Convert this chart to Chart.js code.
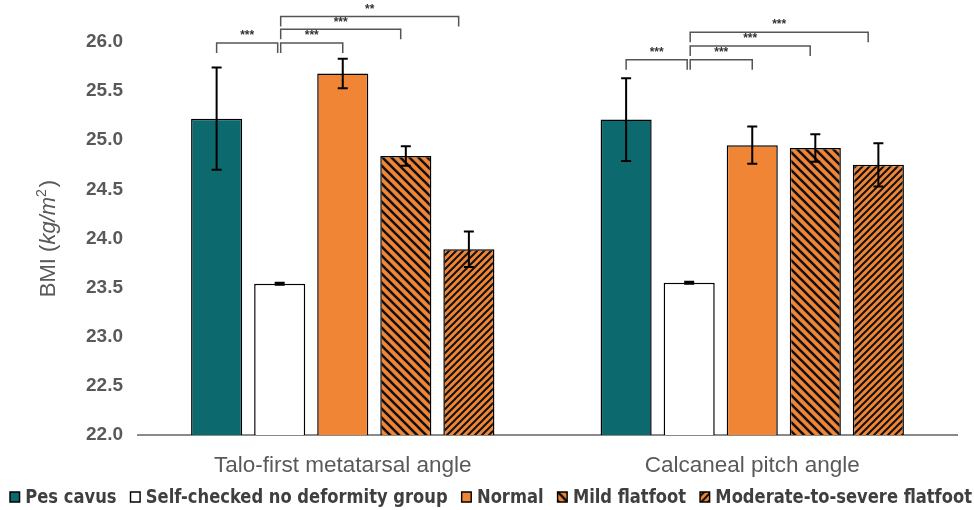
<!DOCTYPE html>
<html><head><meta charset="utf-8">
<script src="https://cdn.jsdelivr.net/npm/chart.js@4.4.1/dist/chart.umd.min.js"></script>
<style>html,body{margin:0;padding:0;background:#fff;}#wrap{width:974px;height:510px;position:relative}</style>
</head><body><div id="wrap"><canvas id="c" width="974" height="510"></canvas></div>
<script>
// ---------- data ----------
const categories = ['Talo-first metatarsal angle', 'Calcaneal pitch angle'];
const seriesNames = ['Pes cavus', 'Self-checked no deformity group', 'Normal', 'Mild flatfoot', 'Moderate-to-severe flatfoot'];
const pesCavus       = [25.22, 25.21];
const selfChecked    = [23.54, 23.55];
const normal         = [25.68, 24.95];
const mildFlatfoot   = [24.84, 24.92];
const moderateSevere = [23.89, 24.75];
const pesCavusErr    = [0.52, 0.42];
const selfCheckedErr = [0.01, 0.01];
const normalErr      = [0.15, 0.19];
const mildErr        = [0.10, 0.14];
const moderateErr    = [0.18, 0.22];
const yTicks = [22.0, 22.5, 23.0, 23.5, 24.0, 24.5, 25.0, 25.5, 26.0];
// significance brackets (category, from series, to series, height in BMI units, label)
const bracketCategory = [0, 0, 0, 0, 1, 1, 1, 1];
const bracketFrom     = [0, 1, 1, 1, 0, 1, 1, 1];
const bracketTo       = [1, 2, 3, 4, 1, 2, 3, 4];
const bracketHeight   = [25.99, 25.99, 26.13, 26.26, 25.82, 25.82, 25.96, 26.10];
const bracketTier     = [0, 0, 1, 2, 0, 0, 1, 2];
const bracketLabel    = ['***', '***', '***', '**', '***', '***', '***', '***'];

// ---------- styles ----------
const TEAL = '#0C696D';
const ORANGE = '#EF8535';
function hatch(dir, period, lw) {
  const c = document.createElement('canvas');
  c.width = period; c.height = period;
  const x = c.getContext('2d');
  x.fillStyle = ORANGE; x.fillRect(0, 0, period, period);
  x.strokeStyle = '#111'; x.lineWidth = lw; x.lineCap = 'square';
  for (const o of [-period, 0, period]) {
    x.beginPath();
    if (dir === 'back') { x.moveTo(o, 0); x.lineTo(o + period, period); }
    else { x.moveTo(o, period); x.lineTo(o + period, 0); }
    x.stroke();
  }
  return x.createPattern(c, 'repeat');
}
const mildPattern = hatch('back', 9, 2.6);
const modPattern = hatch('fwd', 7, 2.0);

const values = [pesCavus, selfChecked, normal, mildFlatfoot, moderateSevere];
const errors = [pesCavusErr, selfCheckedErr, normalErr, mildErr, moderateErr];
const fills = [TEAL, '#FFFFFF', ORANGE, mildPattern, modPattern];

const datasets = seriesNames.map((n, i) => ({
  label: n, data: values[i], errors: errors[i],
  backgroundColor: fills[i], borderColor: '#000', borderWidth: 1.5, borderSkipped: false,
  categoryPercentage: 0.77, barPercentage: 0.81
}));

const GRAY = '#595959';

const extras = {
  id: 'extras',
  afterDatasetsDraw(chart) {
    const ctx = chart.ctx, y = chart.scales.y;
    ctx.save();
    ctx.strokeStyle = '#000'; ctx.lineWidth = 2;
    chart.data.datasets.forEach((ds, di) => {
      const meta = chart.getDatasetMeta(di);
      meta.data.forEach((bar, j) => {
        const v = ds.data[j], e = ds.errors[j];
        const y1 = y.getPixelForValue(v + e), y2 = y.getPixelForValue(v - e);
        ctx.beginPath();
        ctx.moveTo(bar.x, y1); ctx.lineTo(bar.x, y2);
        ctx.moveTo(bar.x - 5, y1); ctx.lineTo(bar.x + 5, y1);
        ctx.moveTo(bar.x - 5, y2); ctx.lineTo(bar.x + 5, y2);
        ctx.stroke();
      });
    });
    // brackets
    ctx.strokeStyle = '#555'; ctx.lineWidth = 1.5;
    ctx.fillStyle = '#333'; ctx.font = 'bold 12px "Liberation Sans", Arial, sans-serif';
    ctx.textAlign = 'center'; ctx.textBaseline = 'middle';
    bracketCategory.forEach((c, k) => {
      const a = chart.getDatasetMeta(bracketFrom[k]).data[c];
      const b = chart.getDatasetMeta(bracketTo[k]).data[c];
      const yy = y.getPixelForValue(bracketHeight[k]);
      let x1 = a.x, x2 = b.x - b.width * 0.1 * bracketTier[k];
      if (bracketFrom[k] === 0) x2 -= 2; else x1 += 1;
      ctx.beginPath();
      ctx.moveTo(x1, yy + 10); ctx.lineTo(x1, yy); ctx.lineTo(x2, yy); ctx.lineTo(x2, yy + 10);
      ctx.stroke();
      ctx.fillText(bracketLabel[k], (x1 + x2) / 2, yy - 7);
    });
    ctx.restore();
  },
  afterDraw(chart) {
    const ctx = chart.ctx, ca = chart.chartArea;
    ctx.save();
    // y-axis title with italic unit
    ctx.translate(49, (ca.top + ca.bottom) / 2);
    ctx.rotate(-Math.PI / 2);
    ctx.fillStyle = GRAY; ctx.textBaseline = 'middle';
    const fN = '22px "Liberation Sans", Arial, sans-serif';
    const fI = 'italic 22px "Liberation Sans", Arial, sans-serif';
    const fS = '14px "Liberation Sans", Arial, sans-serif';
    const parts = [['BMI (', fN, 0], ['kg/m', fI, 0], ['2', fS, -7], [')', fN, 0]];
    let total = 0;
    parts.forEach(p => { ctx.font = p[1]; total += ctx.measureText(p[0]).width + (p[0] === '2' ? 2 : 0); });
    let x = -total / 2;
    ctx.textAlign = 'left';
    parts.forEach(p => { ctx.font = p[1]; ctx.fillText(p[0], x, p[2]); x += ctx.measureText(p[0]).width + (p[0] === '2' ? 2 : 0); });
    ctx.restore();

    // legend
    ctx.save();
    const lf = 'bold 19px "Liberation Sans Narrow", "Arial Narrow", "DejaVu Sans Condensed", sans-serif';
    ctx.font = lf; ctx.textBaseline = 'middle'; ctx.textAlign = 'left';
    const box = 10, gapT = 6, left = 10, span = 962, ly = 497;
    const widths = chart.data.datasets.map(d => box + gapT + ctx.measureText(d.label).width);
    const sum = widths.reduce((s, w) => s + w, 0);
    let gap = (span - sum) / 4, sx = 1;
    if (gap < 14) { gap = 14; sx = (span - 56) / sum; }
    ctx.translate(left, 0); ctx.scale(sx, 1);
    let cx = 0;
    chart.data.datasets.forEach((d, i) => {
      ctx.fillStyle = d.backgroundColor;
      ctx.fillRect(cx, ly - box / 2, box, box);
      ctx.strokeStyle = '#000'; ctx.lineWidth = 1.5;
      ctx.strokeRect(cx, ly - box / 2, box, box);
      ctx.fillStyle = '#3f3f3f';
      ctx.fillText(d.label, cx + box + gapT, ly + 1);
      cx += widths[i] + gap / sx;
    });
    ctx.restore();
  }
};

new Chart(document.getElementById('c'), {
  type: 'bar',
  data: { labels: categories, datasets },
  plugins: [extras],
  options: {
    responsive: false, animation: false, devicePixelRatio: 1,
    layout: { padding: { top: 42, right: 17, bottom: 0, left: 0 } },
    plugins: { legend: { display: false }, tooltip: { enabled: false } },
    scales: {
      x: {
        grid: { display: false },
        border: { display: true, color: '#8a8a8a', width: 2 },
        ticks: { color: GRAY, font: { family: '"Liberation Sans", Arial, sans-serif', size: 22.5 }, padding: 9 },
        afterFit(s) { s.height = 75; }
      },
      y: {
        min: 22, max: 26,
        grid: { display: false },
        border: { display: false },
        afterBuildTicks(s) { s.ticks = yTicks.map(v => ({ value: v })); },
        ticks: { color: GRAY, padding: 7, font: { family: '"Liberation Sans", Arial, sans-serif', size: 19, weight: 'bold' },
          callback: v => Number(v).toFixed(1) },
        afterFit(s) { s.width = 138; }
      }
    }
  }
});
</script></body></html>
